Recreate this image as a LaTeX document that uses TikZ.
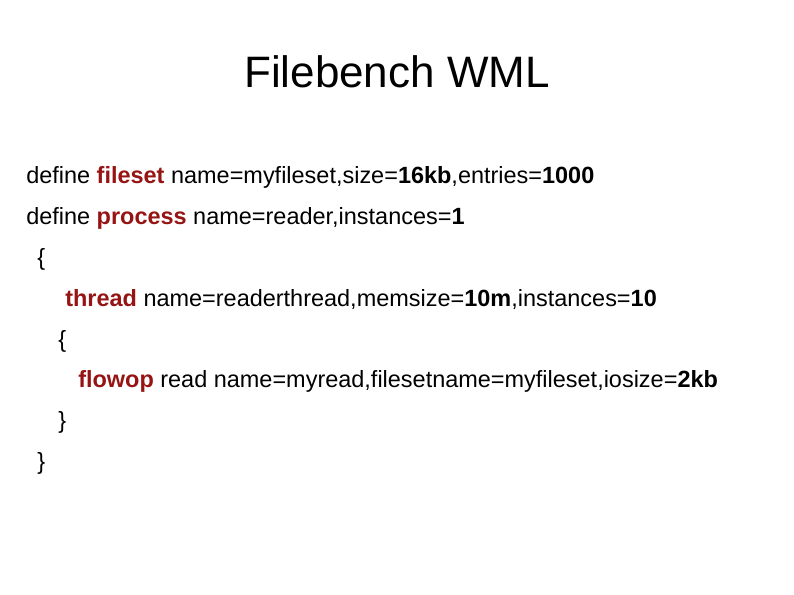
\documentclass[tikz,border=0pt]{standalone}
\usepackage{fontspec}
\setmainfont{Liberation Sans}
\definecolor{kw}{RGB}{150,20,20}
\newcommand{\kwd}[1]{\textcolor{kw}{\textbf{#1}}}
\begin{document}
\begin{tikzpicture}[x=0.75pt,y=-0.75pt,
  line/.style={anchor=base west,inner sep=0pt,font=\fontsize{17.6}{20}\selectfont}]
\useasboundingbox (0,0) rectangle (794,595);
\node[anchor=base,inner sep=0pt,font=\fontsize{33}{40}\selectfont] (title) at (397,88) {Filebench WML};
\node[line] (l1) at (26,184) {define \kwd{fileset} name=myfileset,size=\textbf{16kb},entries=\textbf{1000}};
\node[line] (l2) at (26,225) {define \kwd{process} name=reader,instances=\textbf{1}};
\node[line] (l3) at (37,266) {\{};
\node[line] (l4) at (65,307) {\kwd{thread} name=readerthread,memsize=\textbf{10m},instances=\textbf{10}};
\node[line] (l5) at (58,348) {\{};
\node[line] (l6) at (78,388) {\kwd{flowop} read name=myread,filesetname=myfileset,iosize=\textbf{2kb}};
\node[line] (l7) at (58,429) {\}};
\node[line] (l8) at (37,470) {\}};
\end{tikzpicture}
\end{document}
